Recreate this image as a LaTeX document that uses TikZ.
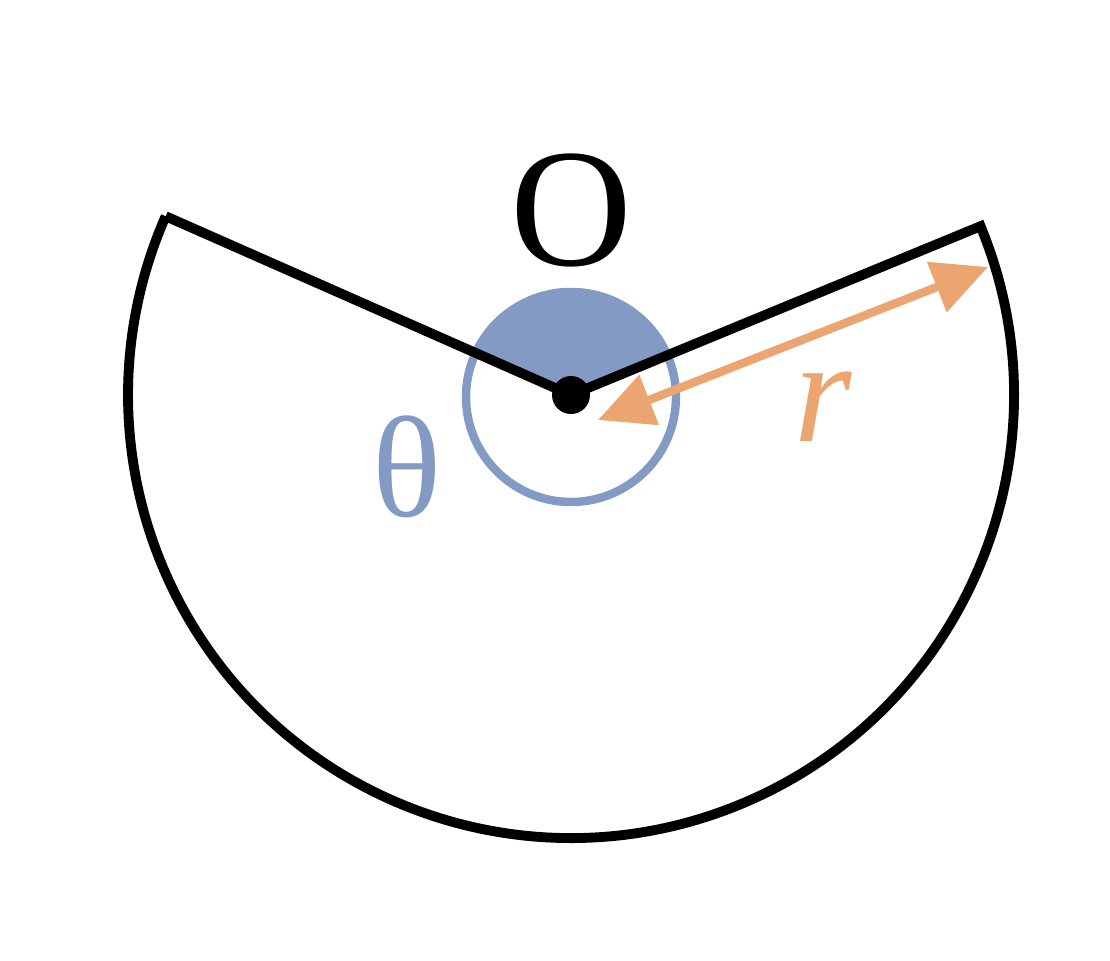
\documentclass[tikz,border=0pt]{standalone}
\usepackage{fontspec}
\setmainfont{Liberation Serif}
\usepackage{tikz}
\usetikzlibrary{calc}
\usetikzlibrary{arrows.meta}

\definecolor{thetablue}{RGB}{130,154,196}
\definecolor{rorange}{RGB}{235,165,112}

\begin{document}
\begin{tikzpicture}
            % Define the radii and the opening angles
            \def\R{4.43}  % radius of the sector
            \def\rr{1.05}  % radius of the angle marker
            \def\alo{22.4}  % angle of the right edge
            \def\ahi{156.2}  % angle of the left edge

            \useasboundingbox (0,0) rectangle (11.1,9.6);

            % Calculate the coordinates of the points
            \coordinate (O) at (5.71, 5.65);
            \coordinate (A) at ($(O)+(\alo:\R)$);
            \coordinate (B) at ($(O)+(\ahi:\R)$);
            \coordinate (M) at (5.71, 5.63);
            \coordinate (P0) at (5.98, 5.40);
            \coordinate (P1) at (9.88, 6.93);

            % Draw the angle marker
            \fill[thetablue] (M) -- ++(\alo:{\rr+0.04}) arc (\alo:\ahi:{\rr+0.04}) -- cycle;
            \draw[thetablue,line width=2.4pt] (M) circle (\rr);

            % Draw the sector
            \draw[line width=2.8pt,line join=miter] (B) -- (O) -- (A) arc (\alo:\ahi-360:\R);
            \fill (O) circle (0.19);

            % Draw the radius arrow
            \draw[rorange,line width=2.4pt,{Triangle[length=0.55cm,width=0.52cm]}-{Triangle[length=0.55cm,width=0.52cm]}] (P0) -- (P1);

            % Draw the labels
            \node (lblO) at (5.71, 7.50) {\fontsize{48}{50}\selectfont O};
            \node[text=thetablue] (lblT) at (4.07, 4.93) {\fontsize{41}{44}\selectfont θ};
            \node[text=rorange] (lblR) at (8.23, 5.53) {\fontsize{42}{44}\selectfont\textit{r}};

        \end{tikzpicture}
\end{document}
